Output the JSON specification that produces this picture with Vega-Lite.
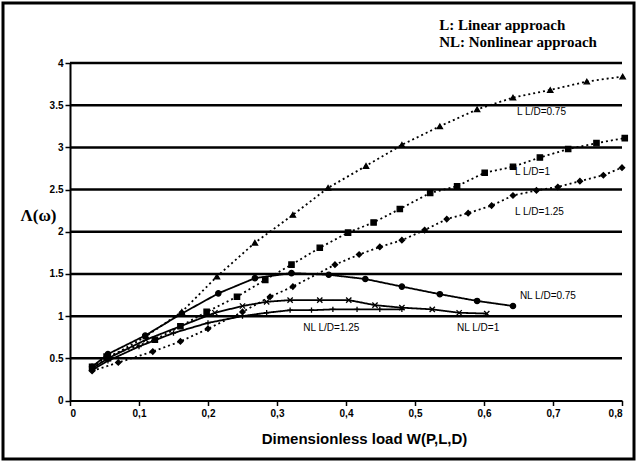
{
  "$schema": "https://vega.github.io/schema/vega-lite/v6.json",
  "width": 631,
  "height": 456,
  "padding": 3,
  "autosize": {"type": "none"},
  "background": "white",
  "config": {
    "view": {"stroke": "black", "strokeWidth": 3},
    "axis": {
      "domainColor": "black", "domainWidth": 2, "tickColor": "black", "tickWidth": 1.5, "tickSize": 5,
      "labelColor": "black", "labelFont": "Liberation Sans", "labelFontWeight": "bold", "labelFontSize": 10,
      "titleColor": "black", "grid": false
    }
  },
  "layer": [
    {
      "data": {"values": [{"g": 0.5}, {"g": 1}, {"g": 1.5}, {"g": 2}, {"g": 2.5}, {"g": 3}, {"g": 3.5}, {"g": 4}]},
      "mark": {"type": "rule", "color": "black", "strokeWidth": 2.5},
      "encoding": {
        "y": {"field": "g", "type": "quantitative", "scale": {"domain": [0, 4], "range": [397.5, 60], "nice": false, "zero": false},
          "axis": {"values": [0, 0.5, 1, 1.5, 2, 2.5, 3, 3.5, 4], "format": "~g", "offset": -67, "labelPadding": 2,
            "title": "Λ(ω)", "titleAngle": 0, "titleX": -32, "titleY": 212, "titleAlign": "center", "titleBaseline": "middle",
            "titleFont": "Liberation Serif", "titleFontSize": 17, "titleFontWeight": "bold"}},
        "x": {"datum": 0, "type": "quantitative", "scale": {"domain": [0, 0.8], "range": [67, 619], "nice": false, "zero": false},
          "axis": {"values": [0, 0.1, 0.2, 0.3, 0.4, 0.5, 0.6, 0.7, 0.8], "labelExpr": "replace(format(datum.value, '~g'), '.', ',')",
            "offset": -58.5, "labelPadding": 3,
            "title": "Dimensionless load W(P,L,D)", "titleFont": "Liberation Sans", "titleFontSize": 15, "titleFontWeight": "bold",
            "titleX": 361, "titleY": 38, "titleBaseline": "middle", "titleAlign": "center"}},
        "x2": {"datum": 0.8}
      }
    },
    {
      "data": {"name": "curves"},
      "mark": {"type": "line", "color": "black", "strokeWidth": 1.8},
      "encoding": {
        "x": {"field": "x", "type": "quantitative"},
        "y": {"field": "y", "type": "quantitative"},
        "detail": {"field": "series"},
        "strokeDash": {"field": "approach", "type": "nominal", "scale": {"domain": ["L", "NL"], "range": [[2, 3], [1, 0]]}, "legend": null}
      }
    },
    {
      "data": {"name": "curves"},
      "mark": {"type": "point", "filled": true, "color": "black", "stroke": "black", "strokeWidth": 1.3, "opacity": 1},
      "encoding": {
        "x": {"field": "x", "type": "quantitative"},
        "y": {"field": "y", "type": "quantitative"},
        "shape": {"field": "series", "type": "nominal", "legend": null,
          "scale": {"domain": ["L L/D=0.75", "L L/D=1", "L L/D=1.25", "NL L/D=0.75", "NL L/D=1", "NL L/D=1.25"],
            "range": ["triangle-up", "square", "diamond", "circle", "M-1,-1L1,1M1,-1L-1,1", "M-1,0L1,0M0,-1L0,1"]}},
        "size": {"value": 28}
      }
    },
    {
      "data": {"values": [
        {"x": 0.648, "y": 3.42, "label": "L L/D=0.75"},
        {"x": 0.645, "y": 2.71, "label": "L L/D=1"},
        {"x": 0.645, "y": 2.23, "label": "L L/D=1.25"},
        {"x": 0.652, "y": 1.24, "label": "NL L/D=0.75"},
        {"x": 0.561, "y": 0.86, "label": "NL L/D=1"},
        {"x": 0.338, "y": 0.86, "label": "NL L/D=1.25"}
      ]},
      "mark": {"type": "text", "align": "left", "baseline": "middle", "font": "Liberation Sans", "fontSize": 10, "color": "black"},
      "encoding": {
        "x": {"field": "x", "type": "quantitative"},
        "y": {"field": "y", "type": "quantitative"},
        "text": {"field": "label"}
      }
    },
    {
      "data": {"values": [
        {"x": 0.535, "y": 4.45, "label": "L: Linear approach"},
        {"x": 0.535, "y": 4.25, "label": "NL: Nonlinear approach"}
      ]},
      "mark": {"type": "text", "align": "left", "baseline": "middle", "font": "Liberation Serif", "fontSize": 15, "fontWeight": "bold", "color": "black"},
      "encoding": {
        "x": {"field": "x", "type": "quantitative"},
        "y": {"field": "y", "type": "quantitative"},
        "text": {"field": "label"}
      }
    }
  ],
  "datasets": {
    "curves": [
      {"series": "L L/D=0.75", "approach": "L", "x": 0.032, "y": 0.385},
      {"series": "L L/D=0.75", "approach": "L", "x": 0.055, "y": 0.5},
      {"series": "L L/D=0.75", "approach": "L", "x": 0.11, "y": 0.76},
      {"series": "L L/D=0.75", "approach": "L", "x": 0.162, "y": 1.05},
      {"series": "L L/D=0.75", "approach": "L", "x": 0.213, "y": 1.47},
      {"series": "L L/D=0.75", "approach": "L", "x": 0.268, "y": 1.87},
      {"series": "L L/D=0.75", "approach": "L", "x": 0.323, "y": 2.2},
      {"series": "L L/D=0.75", "approach": "L", "x": 0.374, "y": 2.52},
      {"series": "L L/D=0.75", "approach": "L", "x": 0.429, "y": 2.78},
      {"series": "L L/D=0.75", "approach": "L", "x": 0.481, "y": 3.03},
      {"series": "L L/D=0.75", "approach": "L", "x": 0.536, "y": 3.25},
      {"series": "L L/D=0.75", "approach": "L", "x": 0.59, "y": 3.45},
      {"series": "L L/D=0.75", "approach": "L", "x": 0.642, "y": 3.59},
      {"series": "L L/D=0.75", "approach": "L", "x": 0.696, "y": 3.68},
      {"series": "L L/D=0.75", "approach": "L", "x": 0.749, "y": 3.78},
      {"series": "L L/D=0.75", "approach": "L", "x": 0.801, "y": 3.84},
      {"series": "L L/D=1", "approach": "L", "x": 0.032, "y": 0.4},
      {"series": "L L/D=1", "approach": "L", "x": 0.053, "y": 0.52},
      {"series": "L L/D=1", "approach": "L", "x": 0.123, "y": 0.72},
      {"series": "L L/D=1", "approach": "L", "x": 0.16, "y": 0.88},
      {"series": "L L/D=1", "approach": "L", "x": 0.198, "y": 1.05},
      {"series": "L L/D=1", "approach": "L", "x": 0.242, "y": 1.23},
      {"series": "L L/D=1", "approach": "L", "x": 0.283, "y": 1.43},
      {"series": "L L/D=1", "approach": "L", "x": 0.321, "y": 1.61},
      {"series": "L L/D=1", "approach": "L", "x": 0.362, "y": 1.81},
      {"series": "L L/D=1", "approach": "L", "x": 0.403, "y": 1.99},
      {"series": "L L/D=1", "approach": "L", "x": 0.44, "y": 2.11},
      {"series": "L L/D=1", "approach": "L", "x": 0.478, "y": 2.27},
      {"series": "L L/D=1", "approach": "L", "x": 0.522, "y": 2.46},
      {"series": "L L/D=1", "approach": "L", "x": 0.561, "y": 2.54},
      {"series": "L L/D=1", "approach": "L", "x": 0.601, "y": 2.7},
      {"series": "L L/D=1", "approach": "L", "x": 0.642, "y": 2.77},
      {"series": "L L/D=1", "approach": "L", "x": 0.681, "y": 2.88},
      {"series": "L L/D=1", "approach": "L", "x": 0.722, "y": 2.98},
      {"series": "L L/D=1", "approach": "L", "x": 0.763, "y": 3.05},
      {"series": "L L/D=1", "approach": "L", "x": 0.804, "y": 3.11},
      {"series": "L L/D=1.25", "approach": "L", "x": 0.032, "y": 0.35},
      {"series": "L L/D=1.25", "approach": "L", "x": 0.07, "y": 0.45},
      {"series": "L L/D=1.25", "approach": "L", "x": 0.12, "y": 0.58},
      {"series": "L L/D=1.25", "approach": "L", "x": 0.16, "y": 0.7},
      {"series": "L L/D=1.25", "approach": "L", "x": 0.2, "y": 0.85},
      {"series": "L L/D=1.25", "approach": "L", "x": 0.25, "y": 1.05},
      {"series": "L L/D=1.25", "approach": "L", "x": 0.29, "y": 1.23},
      {"series": "L L/D=1.25", "approach": "L", "x": 0.323, "y": 1.35},
      {"series": "L L/D=1.25", "approach": "L", "x": 0.384, "y": 1.61},
      {"series": "L L/D=1.25", "approach": "L", "x": 0.419, "y": 1.73},
      {"series": "L L/D=1.25", "approach": "L", "x": 0.449, "y": 1.82},
      {"series": "L L/D=1.25", "approach": "L", "x": 0.481, "y": 1.9},
      {"series": "L L/D=1.25", "approach": "L", "x": 0.514, "y": 2.02},
      {"series": "L L/D=1.25", "approach": "L", "x": 0.546, "y": 2.15},
      {"series": "L L/D=1.25", "approach": "L", "x": 0.577, "y": 2.22},
      {"series": "L L/D=1.25", "approach": "L", "x": 0.611, "y": 2.31},
      {"series": "L L/D=1.25", "approach": "L", "x": 0.642, "y": 2.43},
      {"series": "L L/D=1.25", "approach": "L", "x": 0.676, "y": 2.49},
      {"series": "L L/D=1.25", "approach": "L", "x": 0.707, "y": 2.53},
      {"series": "L L/D=1.25", "approach": "L", "x": 0.739, "y": 2.6},
      {"series": "L L/D=1.25", "approach": "L", "x": 0.773, "y": 2.67},
      {"series": "L L/D=1.25", "approach": "L", "x": 0.8, "y": 2.76},
      {"series": "NL L/D=0.75", "approach": "NL", "x": 0.032, "y": 0.4},
      {"series": "NL L/D=0.75", "approach": "NL", "x": 0.055, "y": 0.55},
      {"series": "NL L/D=0.75", "approach": "NL", "x": 0.109, "y": 0.77},
      {"series": "NL L/D=0.75", "approach": "NL", "x": 0.162, "y": 1.03},
      {"series": "NL L/D=0.75", "approach": "NL", "x": 0.215, "y": 1.27},
      {"series": "NL L/D=0.75", "approach": "NL", "x": 0.268, "y": 1.45},
      {"series": "NL L/D=0.75", "approach": "NL", "x": 0.321, "y": 1.51},
      {"series": "NL L/D=0.75", "approach": "NL", "x": 0.375, "y": 1.49},
      {"series": "NL L/D=0.75", "approach": "NL", "x": 0.428, "y": 1.44},
      {"series": "NL L/D=0.75", "approach": "NL", "x": 0.481, "y": 1.35},
      {"series": "NL L/D=0.75", "approach": "NL", "x": 0.536, "y": 1.26},
      {"series": "NL L/D=0.75", "approach": "NL", "x": 0.59, "y": 1.18},
      {"series": "NL L/D=0.75", "approach": "NL", "x": 0.642, "y": 1.12},
      {"series": "NL L/D=1", "approach": "NL", "x": 0.032, "y": 0.38},
      {"series": "NL L/D=1", "approach": "NL", "x": 0.055, "y": 0.5},
      {"series": "NL L/D=1", "approach": "NL", "x": 0.11, "y": 0.72},
      {"series": "NL L/D=1", "approach": "NL", "x": 0.16, "y": 0.88},
      {"series": "NL L/D=1", "approach": "NL", "x": 0.21, "y": 1.04},
      {"series": "NL L/D=1", "approach": "NL", "x": 0.25, "y": 1.12},
      {"series": "NL L/D=1", "approach": "NL", "x": 0.285, "y": 1.17},
      {"series": "NL L/D=1", "approach": "NL", "x": 0.319, "y": 1.19},
      {"series": "NL L/D=1", "approach": "NL", "x": 0.362, "y": 1.19},
      {"series": "NL L/D=1", "approach": "NL", "x": 0.404, "y": 1.19},
      {"series": "NL L/D=1", "approach": "NL", "x": 0.442, "y": 1.13},
      {"series": "NL L/D=1", "approach": "NL", "x": 0.481, "y": 1.1},
      {"series": "NL L/D=1", "approach": "NL", "x": 0.525, "y": 1.08},
      {"series": "NL L/D=1", "approach": "NL", "x": 0.564, "y": 1.04},
      {"series": "NL L/D=1", "approach": "NL", "x": 0.604, "y": 1.03},
      {"series": "NL L/D=1.25", "approach": "NL", "x": 0.032, "y": 0.36},
      {"series": "NL L/D=1.25", "approach": "NL", "x": 0.055, "y": 0.47},
      {"series": "NL L/D=1.25", "approach": "NL", "x": 0.1, "y": 0.64},
      {"series": "NL L/D=1.25", "approach": "NL", "x": 0.15, "y": 0.8},
      {"series": "NL L/D=1.25", "approach": "NL", "x": 0.2, "y": 0.92},
      {"series": "NL L/D=1.25", "approach": "NL", "x": 0.25, "y": 1.0},
      {"series": "NL L/D=1.25", "approach": "NL", "x": 0.285, "y": 1.04},
      {"series": "NL L/D=1.25", "approach": "NL", "x": 0.319, "y": 1.07},
      {"series": "NL L/D=1.25", "approach": "NL", "x": 0.35, "y": 1.07},
      {"series": "NL L/D=1.25", "approach": "NL", "x": 0.381, "y": 1.08},
      {"series": "NL L/D=1.25", "approach": "NL", "x": 0.416, "y": 1.08},
      {"series": "NL L/D=1.25", "approach": "NL", "x": 0.449, "y": 1.08},
      {"series": "NL L/D=1.25", "approach": "NL", "x": 0.481, "y": 1.08}
    ]
  }
}
